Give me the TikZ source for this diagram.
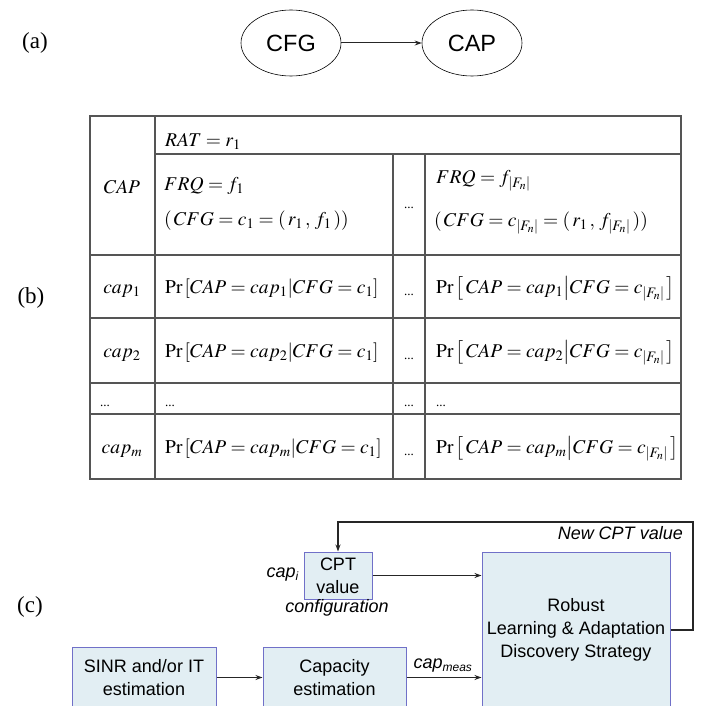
\documentclass[tikz,border=0pt]{standalone}
\usepackage{mathptmx}
\usepackage{fontspec}
\setmainfont{Liberation Serif}
\newfontfamily\arial{Liberation Sans}
\usetikzlibrary{arrows.meta,calc,shapes.geometric}
\definecolor{boxfill}{RGB}{226,238,243}
\definecolor{boxline}{RGB}{112,112,200}
\definecolor{tblline}{RGB}{85,85,85}
\begin{document}
\begin{tikzpicture}[x=1pt,y=-1pt,
  tbl/.style={draw=tblline,line width=1.1pt},
  mth/.style={inner sep=0pt,font=\fontsize{19.5}{22}\selectfont},
  dts/.style={inner sep=0pt,font=\fontsize{13}{15}\selectfont},
  lbl/.style={inner sep=0pt,font=\fontsize{23}{26}\selectfont},
  ell/.style={draw,ellipse,line width=0.6pt,minimum width=100pt,minimum height=66pt,font=\arial\fontsize{23.5}{26}\selectfont},
  blk/.style={draw=boxline,fill=boxfill,line width=1pt,align=center,inner sep=0pt,font=\arial\fontsize{18}{23}\selectfont},
  itl/.style={inner sep=0pt,font=\arial\itshape\fontsize{18}{22}\selectfont},
  arr/.style={-{Stealth[length=7pt,width=5pt]},line width=1pt,draw=black!85}]
\useasboundingbox (0,0) rectangle (713,706);
\clip (0,0) rectangle (713,706);
% ---------- (a)
\node[lbl] (la) at (35,43) {(a)};
\node[ell] (cfg) at (291,43) {CFG};
\node[ell] (capn) at (472,43) {CAP};
\draw[arr] (cfg) -- (capn);
% ---------- (b)
\node[lbl] (lb) at (31,298) {(b)};
\draw[tbl] (90,116) rectangle (681,479);
\draw[tbl] (155,116) -- (155,479);
\draw[tbl] (155,154) -- (681,154);
\draw[tbl] (393,154) -- (393,479);
\draw[tbl] (425,154) -- (425,479);
\draw[tbl] (90,255) -- (681,255);
\draw[tbl] (90,318) -- (681,318);
\draw[tbl] (90,383) -- (681,383);
\draw[tbl] (90,414) -- (681,414);
\node[mth,anchor=west] (rat) at (165,141) {$RAT = r_1$};
\node[mth] (caph) at (122,187) {$CAP$};
\node[mth,anchor=west] (frq1) at (164,186) {$FRQ = f_1$};
\node[mth,anchor=west] (cfg1) at (164,221) {$(\,CFG = c_1 =(\,r_1\,,\,f_1\,))$};
\node[mth,anchor=west] (frqn) at (436,181) {$FRQ = f_{|F_n|}$};
\node[mth,anchor=west] (cfgn) at (434,223) {$(\,CFG = c_{|F_n|} =(\,r_1\,,\,f_{|F_n|}\,))$};
\node[dts] (dh) at (409,208) {...};
% rows
\node[mth] (c1) at (122,291) {$cap_1$};
\node[mth,anchor=west] (p11) at (165,289) {$\Pr\left[CAP = cap_1\middle|CFG = c_1\right]$};
\node[dts] (d1) at (409,295) {...};
\node[mth,anchor=west] (p1n) at (436,289) {$\Pr\left[\,CAP = cap_1\middle|CFG = c_{|F_n|}\,\right]$};
\node[mth] (c2) at (122,355) {$cap_2$};
\node[mth,anchor=west] (p21) at (165,353) {$\Pr\left[CAP = cap_2\middle|CFG = c_1\right]$};
\node[dts] (d2) at (409,359) {...};
\node[mth,anchor=west] (p2n) at (436,353) {$\Pr\left[\,CAP = cap_2\middle|CFG = c_{|F_n|}\,\right]$};
\node[dts,anchor=west] (e0) at (100,406) {...};
\node[dts,anchor=west] (e1) at (165,406) {...};
\node[dts] (e2) at (409,406) {...};
\node[dts,anchor=west] (e3) at (436,406) {...};
\node[mth] (cm) at (122,451) {$cap_m$};
\node[mth,anchor=west] (pm1) at (165,449) {$\Pr\left[CAP = cap_m\middle|CFG = c_1\right]$};
\node[dts] (dm) at (409,455) {...};
\node[mth,anchor=west] (pmn) at (436,449) {$\Pr\left[\,CAP = cap_m\middle|CFG = c_{|F_n|}\,\right]$};
% ---------- (c)
\node[lbl] (lc) at (30,607) {(c)};
\node[blk,minimum width=144pt,minimum height=61pt] (sinr) at (144,677.5) {SINR and/or IT\\estimation};
\node[blk,minimum width=143pt,minimum height=61pt] (capest) at (334.5,677.5) {Capacity\\estimation};
\node[blk,minimum width=188pt,minimum height=156pt] (robust) at (576,630) {Robust\\Learning \& Adaptation\\Discovery Strategy};
\node[blk,minimum width=68pt,minimum height=47pt] (cpt) at (338,575.5) {CPT\\value};
\node[itl,anchor=east] (capi) at (299,575) {cap\textsubscript{\fontsize{12}{12}\selectfont i}};
\node[itl] (conf) at (337,608) {configuration};
\node[itl,anchor=east] (newcpt) at (683,533) {New CPT value};
\node[itl] (capm) at (443,666) {cap\textsubscript{\fontsize{12}{12}\selectfont meas}};
\coordinate (fb) at (693,522);
\draw[arr] (sinr.east) -- (capest.west);
\draw[arr] (capest.east) -- (capest.east -| robust.west);
\draw[arr] (cpt.east) -- (cpt.east -| robust.west);
\draw[arr,line width=1.1pt] (robust.east) -| (fb) -| (cpt.north);
\end{tikzpicture}
\end{document}
